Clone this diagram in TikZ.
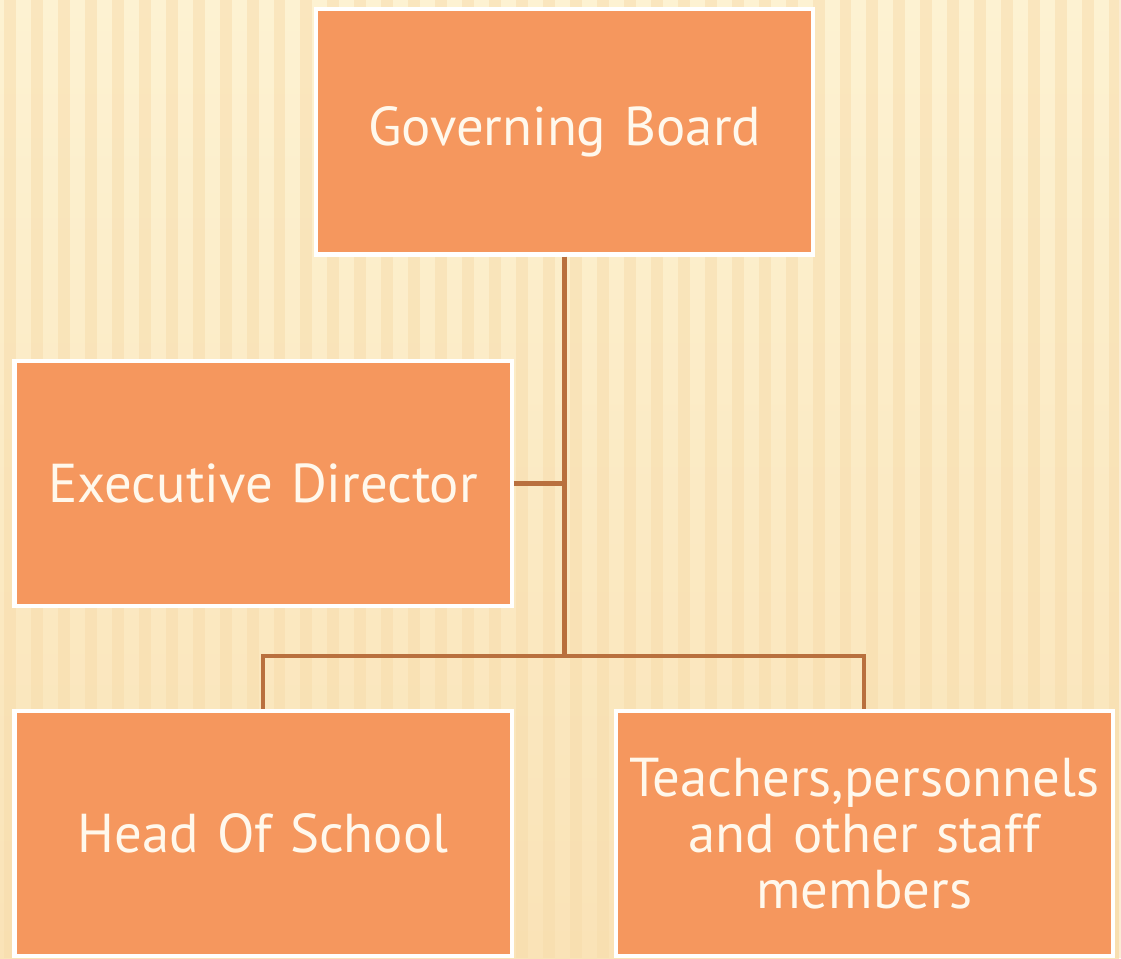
\documentclass[tikz,border=0pt]{standalone}
\usepackage{fontspec}
\setmainfont{PT Sans}[WordSpace=0.6]
\usetikzlibrary{positioning}

\definecolor{boxorange}{HTML}{F5975E}
\definecolor{linkbrown}{HTML}{B9703E}
\definecolor{paper}{HTML}{FDF2D2}
\definecolor{paperdark}{HTML}{F8DCAB}
\definecolor{labelwhite}{HTML}{FFF8EC}

\tikzset{
    unit/.style={rectangle, fill=boxorange, draw=white, line width=3pt,
        minimum width=12.45cm, minimum height=6.15cm, inner xsep=0pt,
        text width=12.3cm, align=center, text=labelwhite,
        font=\fontsize{39}{40}\selectfont},
    link/.style={draw=linkbrown, line width=3pt}
}

\begin{document}
\begin{tikzpicture}
    \def\picwidth{28.025}
    \def\picheight{24}

    % paper background with soft vertical ribs
    \shade[top color=paper, bottom color=paperdark!70!paper]
        (0,0) rectangle (\picwidth,\picheight);
    \foreach \i in {0,...,41}
        \fill[paperdark, opacity=0.5] (\i*0.675+0.1,0) rectangle (\i*0.675+0.4,\picheight);
    \useasboundingbox (0,0) rectangle (\picwidth,\picheight);

    \node[unit] (gb) at (14.14,20.7) {Governing Board};
    \node[unit] (ed) at (6.59,11.89) {Executive Director};
    \node[unit] (hs) at (6.59,3.125) {Head Of School};
    \node[unit, right=2.5cm of hs] (staff) {Teachers,personnels\\and other staff\\members};

    \coordinate (bus) at (0,7.575);

    \draw[link] (gb.south) -- (gb.south |- bus);
    \draw[link] (ed.east) -- (ed.east -| gb.south);
    \draw[link] (hs.north) -- (hs.north |- bus) -| (staff.north);
\end{tikzpicture}
\end{document}
